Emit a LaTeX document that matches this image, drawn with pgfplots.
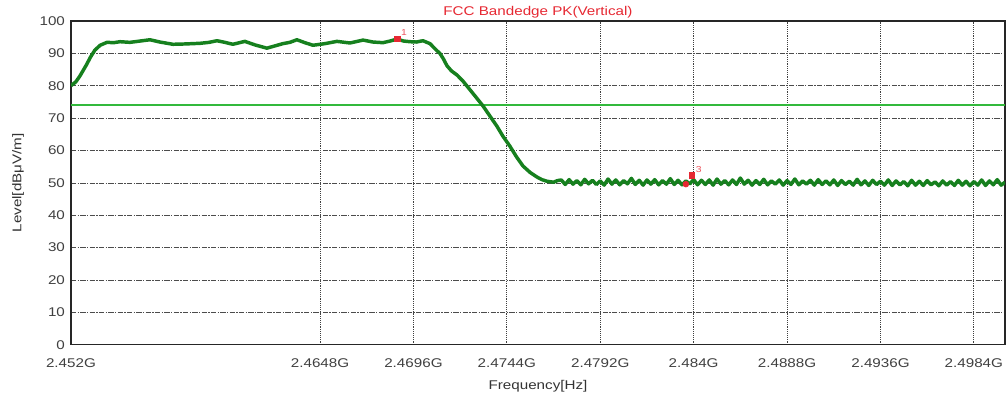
\documentclass[border=0pt]{standalone}
\usepackage{fontspec}
\setmainfont{Liberation Sans}[FakeStretch=1.2]
\usepackage{pgfplots}
\pgfplotsset{compat=1.18}
\usepackage{pgfplotstable}

\definecolor{trace}{RGB}{22,128,30}
\definecolor{limitg}{RGB}{50,185,60}
\definecolor{mkred}{RGB}{230,40,50}

% frequency in MHz, level in dBuV/m
\pgfplotstableread{
f level
2452.00 80.0
2452.25 81.2
2452.46 83.0
2452.80 86.5
2453.00 88.8
2453.23 91.0
2453.50 92.5
2453.85 93.4
2454.20 93.3
2454.52 93.6
2455.03 93.4
2455.55 93.8
2456.06 94.2
2456.57 93.5
2457.24 92.8
2457.86 92.9
2458.63 93.1
2459.10 93.4
2459.50 93.9
2459.91 93.4
2460.32 92.8
2460.94 93.7
2461.46 92.6
2462.07 91.6
2462.48 92.3
2462.89 93.0
2463.25 93.4
2463.61 94.2
2464.02 93.3
2464.44 92.5
2465.05 93.0
2465.67 93.7
2466.34 93.2
2467.01 94.1
2467.52 93.5
2468.03 93.3
2468.40 93.8
2468.75 94.4
2469.10 93.8
2469.42 93.6
2469.75 93.5
2470.09 93.9
2470.45 93.0
2470.81 90.8
2470.96 90.0
2471.15 88.2
2471.32 86.2
2471.55 84.6
2471.84 83.3
2472.15 81.4
2472.50 78.8
2472.85 76.2
2473.17 73.8
2473.50 70.9
2473.89 67.5
2474.20 64.4
2474.56 61.3
2474.90 58.0
2475.23 55.2
2475.60 53.2
2475.95 51.8
2476.20 51.0
2476.46 50.5
2476.80 50.2
2477.00 50.7
2477.2 50.9
2477.4 49.5
2477.6 51.0
2477.8 49.6
2478.0 50.7
2478.2 49.4
2478.4 51.1
2478.6 49.7
2478.8 50.8
2479.0 49.5
2479.2 50.6
2479.4 49.3
2479.6 51.2
2479.8 49.6
2480.0 50.9
2480.2 49.4
2480.4 50.7
2480.6 49.7
2480.8 51.4
2481.0 49.5
2481.2 50.8
2481.4 49.3
2481.6 50.9
2481.8 49.6
2482.0 51.0
2482.2 49.4
2482.4 50.7
2482.6 49.6
2482.8 51.3
2483.0 49.5
2483.2 50.8
2483.4 49.4
2483.6 50.6
2483.8 49.7
2484.0 51.0
2484.2 49.4
2484.4 50.8
2484.6 49.5
2484.8 50.9
2485.0 49.3
2485.2 51.2
2485.4 49.6
2485.6 50.7
2485.8 49.4
2486.0 50.9
2486.2 49.5
2486.4 51.5
2486.6 49.6
2486.8 50.8
2487.0 49.3
2487.2 50.7
2487.4 49.5
2487.6 51.1
2487.8 49.4
2488.0 50.6
2488.2 49.6
2488.4 50.9
2488.6 49.3
2488.8 50.7
2489.0 49.5
2489.2 51.2
2489.4 49.4
2489.6 50.6
2489.8 49.6
2490.0 50.8
2490.2 49.3
2490.4 51.0
2490.6 49.5
2490.8 50.6
2491.0 49.4
2491.2 50.9
2491.4 49.2
2491.6 50.7
2491.8 49.5
2492.0 50.5
2492.2 49.3
2492.4 51.1
2492.6 49.4
2492.8 50.6
2493.0 49.2
2493.2 50.8
2493.4 49.5
2493.6 50.5
2493.8 49.3
2494.0 50.9
2494.2 49.2
2494.4 50.6
2494.6 49.4
2494.8 50.4
2495.0 49.1
2495.2 50.8
2495.4 49.3
2495.6 50.5
2495.8 49.2
2496.0 50.7
2496.2 49.4
2496.4 50.3
2496.6 49.1
2496.8 50.6
2497.0 49.3
2497.2 50.4
2497.4 49.2
2497.6 50.8
2497.8 49.3
2498.0 50.5
2498.2 49.1
2498.4 50.4
2498.6 49.3
2498.8 50.9
2499.0 49.2
2499.2 50.6
2499.4 49.4
2499.6 51.0
2499.8 49.3
2500.0 50.2
}\tracedata

\begin{document}
\begin{tikzpicture}
\begin{axis}[
scale only axis,
width=701pt, height=243pt,
xmin=2452, xmax=2500,
ymin=0, ymax=100,
xtick={2452,2464.8,2469.6,2474.4,2479.2,2484,2488.8,2493.6,2498.4},
xticklabels={2.452G,2.4648G,2.4696G,2.4744G,2.4792G,2.484G,2.4888G,2.4936G,2.4984G},
ytick={0,10,...,100},
major tick length=0pt,
tick label style={font=\fontsize{9.5}{10}\selectfont, text=black!75},
/pgf/number format/assume math mode=true,
xticklabel style={yshift=-7pt},
yticklabel style={xshift=-1pt},
xmajorgrids, ymajorgrids,
x grid style={black!75, densely dotted, line width=0.6pt},
y grid style={black!70, dash pattern=on 4pt off 1pt on 1pt off 1pt, line width=0.5pt},
axis line style={black!85, line width=1pt},
every axis title shift=0pt,
title={FCC Bandedge PK(Vertical)},
title style={at={(axis description cs:0.5,1.028)}, anchor=center, inner sep=0pt, text=mkred, font=\fontsize{9.5}{10}\selectfont},
xlabel={Frequency[Hz]},
xlabel style={at={(axis description cs:0.5,-0.127)}, anchor=center, inner sep=0pt, font=\fontsize{9.5}{10}\selectfont, text=black!80},
ylabel={Level[dBμV/m]},
ylabel style={at={(axis description cs:-0.0567,0.5)}, anchor=center, inner sep=0pt, font=\fontsize{9.5}{10}\selectfont, text=black!80},
]
% limit line
\addplot[limitg, line width=1.1pt] coordinates {(2452,74) (2500,74)};
% measured trace
\addplot[trace, line width=2.6pt, line join=round] table[x=f, y=level] {\tracedata};
% markers
\addplot[only marks, mark=square*, mark size=2.2pt, mkred,
  nodes near coords, point meta=explicit symbolic,
  every node near coord/.append style={anchor=south west, inner sep=1pt, font=\fontsize{6.5}{6.5}\selectfont, text=mkred!80, xshift=2pt, yshift=1pt}]
  coordinates {(2468.75,94.5) [1] (2483.9,52.4) [3]};
\addplot[only marks, mark=*, mark size=2.2pt, mkred] coordinates {(2483.6,49.6)};
\end{axis}
\pgfresetboundingbox
\path[use as bounding box] ([xshift=-53.25pt,yshift=-39.75pt]current axis.south west) rectangle ([xshift=1.5pt,yshift=15.75pt]current axis.north east);
\end{tikzpicture}
\end{document}
